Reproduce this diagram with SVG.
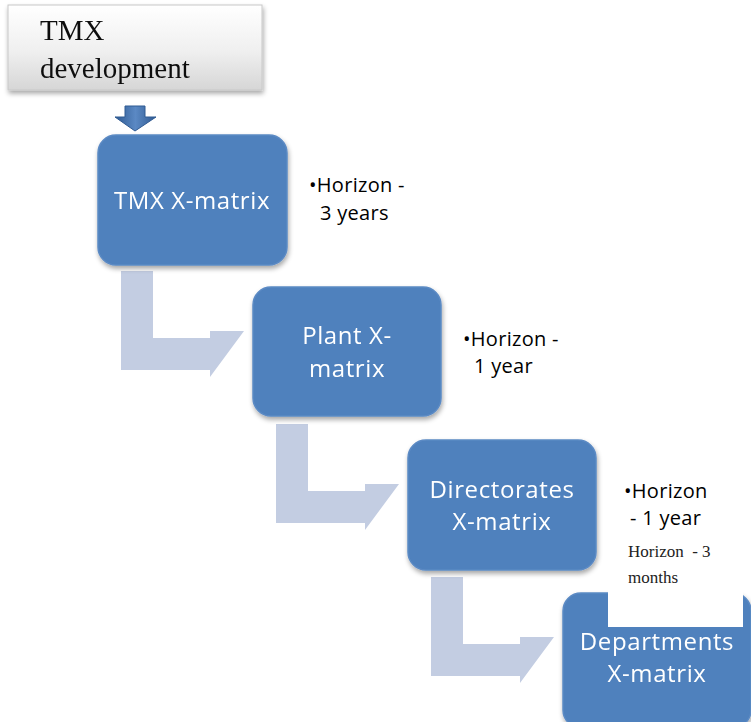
<svg xmlns="http://www.w3.org/2000/svg" width="751" height="722" viewBox="0 0 751 722">
  <defs>
    <linearGradient id="gray" x1="0" y1="0" x2="0" y2="1">
      <stop offset="0" stop-color="#ffffff"/>
      <stop offset="0.55" stop-color="#efefef"/>
      <stop offset="1" stop-color="#d6d6d6"/>
    </linearGradient>
    <linearGradient id="down" x1="0" y1="0" x2="1" y2="0">
      <stop offset="0" stop-color="#2F5A92"/>
      <stop offset="0.5" stop-color="#5B89C4"/>
      <stop offset="1" stop-color="#2F5A92"/>
    </linearGradient>
    <filter id="shadow" x="-10%" y="-10%" width="125%" height="130%">
      <feGaussianBlur in="SourceAlpha" stdDeviation="2.5"/>
      <feOffset dx="1" dy="3" result="b"/>
      <feComponentTransfer><feFuncA type="linear" slope="0.35"/></feComponentTransfer>
      <feMerge><feMergeNode/><feMergeNode in="SourceGraphic"/></feMerge>
    </filter>
    <path id="bent" d="M0,0 H32 V67 H89 V60 H123 L89,106 V99 H0 Z"/>
  </defs>
  <style>
    .box { fill: #4F81BD; stroke: #5B8AC4; stroke-width: 1.5; }
    .label { fill: #ffffff; font-family: "Open Sans", "Noto Sans", sans-serif; font-size: 24px; letter-spacing: 0.6px; text-anchor: middle; }
    .note { fill: #000000; font-family: "Open Sans", "Noto Sans", sans-serif; font-size: 20px; letter-spacing: 0.3px; }
    .snote { fill: #222222; font-family: "Liberation Serif", serif; font-size: 17px; }
    .flow { fill: #C3CDE2; }
  </style>

  <!-- connectors -->
  <g id="connectors">
    <path d="M125,106 H145 V117 H156 L135,131 L115,117 H125 Z" fill="url(#down)" stroke="#2F5A92" stroke-width="1"/>
    <use href="#bent" class="flow" transform="translate(121,271)"/>
    <use href="#bent" class="flow" transform="translate(276,424)"/>
    <use href="#bent" class="flow" transform="translate(431,577)"/>
  </g>

  <!-- TMX development -->
  <g id="tmx-development" filter="url(#shadow)">
    <rect x="8" y="5" width="254" height="85" fill="url(#gray)" stroke="#c8c8c8" stroke-width="1"/>
    <text x="40" y="40" font-family="Liberation Serif, serif" font-size="29" fill="#111">TMX</text>
    <text x="40" y="78" font-family="Liberation Serif, serif" font-size="29" fill="#111">development</text>
  </g>

  <!-- TMX X-matrix -->
  <g id="tmx-xmatrix" filter="url(#shadow)">
    <rect class="box" x="98" y="135" width="189" height="130" rx="18"/>
    <text class="label" x="192" y="209">TMX X-matrix</text>
  </g>
  <g id="note-tmx">
    <text class="note" x="309" y="192">•Horizon -</text>
    <text class="note" x="320" y="220">3 years</text>
  </g>

  <!-- Plant X-matrix -->
  <g id="plant-xmatrix" filter="url(#shadow)">
    <rect class="box" x="253" y="287" width="188" height="129" rx="18"/>
    <text class="label" x="347" y="344">Plant X-</text>
    <text class="label" x="347" y="377">matrix</text>
  </g>
  <g id="note-plant">
    <text class="note" x="463" y="346">•Horizon -</text>
    <text class="note" x="474" y="373">1 year</text>
  </g>

  <!-- Directorates X-matrix -->
  <g id="directorates-xmatrix" filter="url(#shadow)">
    <rect class="box" x="408" y="440" width="188" height="130" rx="18"/>
    <text class="label" x="502" y="498">Directorates</text>
    <text class="label" x="502" y="530">X-matrix</text>
  </g>

  <!-- Departments X-matrix -->
  <g id="departments-xmatrix" filter="url(#shadow)">
    <rect class="box" x="563" y="593" width="188" height="135" rx="18"/>
    <text class="label" x="657" y="650">Departments</text>
    <text class="label" x="657" y="682">X-matrix</text>
  </g>

  <!-- notes for directorates / departments on a white panel -->
  <g id="note-directorates">
    <rect x="608" y="470" width="135" height="157" fill="#ffffff"/>
    <text class="note" x="624" y="498">•Horizon</text>
    <text class="note" x="630" y="525">- 1 year</text>
    <text class="snote" x="628" y="557" xml:space="preserve">Horizon  - 3</text>
    <text class="snote" x="628" y="583">months</text>
  </g>
</svg>
